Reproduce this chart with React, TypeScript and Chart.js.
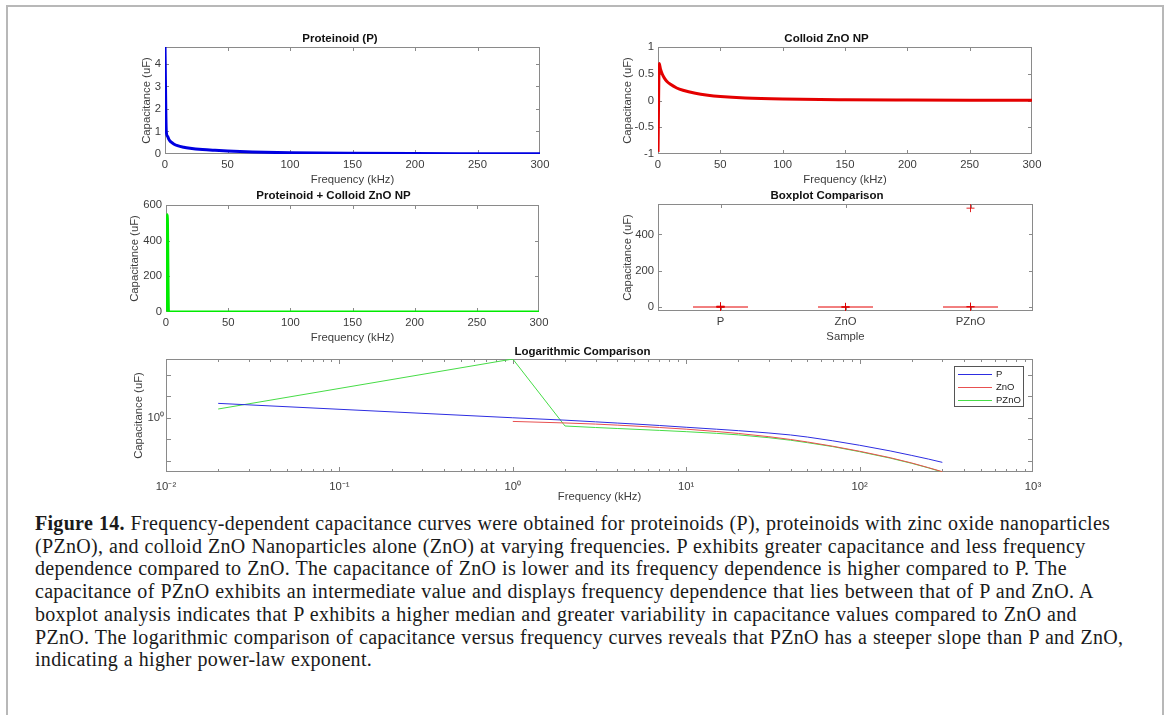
import React, { useEffect, useRef } from 'react';
import { Chart, registerables } from 'chart.js';

Chart.register(...registerables);

// ---------------- data ----------------
const FREQ_KHZ = [0.02, 1, 2, 3, 4, 5, 7, 10, 15, 20, 30, 40, 50, 70, 100, 150, 200, 250, 300];
const CAP_P = [4.75, 1.02, 0.79, 0.66, 0.58, 0.525, 0.447, 0.37, 0.3, 0.257, 0.2, 0.162, 0.13, 0.087, 0.054, 0.0295, 0.0182, 0.0123, 0.0087];
const CAP_ZNO = [-0.96, 0.69, 0.586, 0.519, 0.465, 0.423, 0.361, 0.302, 0.234, 0.191, 0.135, 0.1, 0.0767, 0.0488, 0.0285, 0.0143, 0.0081, 0.0049, 0.0032];
const CAP_PZNO = [2.6, 545, 0.423, 0.36, 0.324, 0.299, 0.265, 0.231, 0.193, 0.164, 0.121, 0.0923, 0.0713, 0.0468, 0.0272, 0.0137, 0.0078, 0.0048, 0.0031];

const SAMPLES = ['P', 'ZnO', 'PZnO'];
const BOX_MEDIANS = [0.03, 0.014, 0.014];
const BOX_OUTLIERS_P = [4.75, 1.02, 0.79, 0.66, 0.58, 0.525];
const BOX_OUTLIERS_ZNO = [0.69, 0.586, -0.96];
const BOX_OUTLIERS_PZNO = [545, 2.6, 0.423];

const LIN_FREQ_TICKS = [0, 50, 100, 150, 200, 250, 300];
const P_TICKS = [0, 1, 2, 3, 4];
const ZNO_TICKS = [-1, -0.5, 0, 0.5, 1];
const PZNO_TICKS = [0, 200, 400, 600];
const BOX_Y_TICKS = [0, 200, 400];
const BOX_X_TICKS = [1, 2, 3];
const LOG_X_MAJOR = [0.01, 0.1, 1, 10, 100, 1000];
const LOG_X_LABELS = ['10\u207B\u00B2', '10\u207B\u00B9', '10\u2070', '10\u00B9', '10\u00B2', '10\u00B3'];
const LOG_MINOR_MULT = [2, 3, 4, 5, 6, 7, 8, 9];
const LOG_Y_TICKS = [0.01, 0.1, 1, 10, 100];

const CAPTION_LABEL = 'Figure 14.';
const CAPTION_LINES = [
  ' Frequency-dependent capacitance curves were obtained for proteinoids (P), proteinoids with zinc oxide nanoparticles',
  '(PZnO), and colloid ZnO Nanoparticles alone (ZnO) at varying frequencies. P exhibits greater capacitance and less frequency',
  'dependence compared to ZnO. The capacitance of ZnO is lower and its frequency dependence is higher compared to P. The',
  'capacitance of PZnO exhibits an intermediate value and displays frequency dependence that lies between that of P and ZnO. A',
  'boxplot analysis indicates that P exhibits a higher median and greater variability in capacitance values compared to ZnO and',
  'PZnO. The logarithmic comparison of capacitance versus frequency curves reveals that PZnO has a steeper slope than P and ZnO,',
  'indicating a higher power-law exponent.',
];

// ---------------- styling ----------------
const FONT = '"Liberation Sans", Arial, Helvetica, sans-serif';
const AXIS_GRAY = '#8a8a8a';
const TEXT_GRAY = '#3c3c3c';
const LABEL_SIZE = 11.3;
const TITLE_SIZE = 11.5;

const matlabAxes = {
  id: 'matlabAxes',
  beforeDatasetsDraw(chart: any, _a: any, opts: any) {
    const { ctx, chartArea } = chart;
    const { left, top, right, bottom } = chartArea;
    const major = (opts && opts.tick) || 4;
    const minor = (opts && opts.minorTick) || 3;
    ctx.save();
    ctx.strokeStyle = AXIS_GRAY;
    ctx.lineWidth = 1;
    ctx.strokeRect(Math.round(left) + 0.5, Math.round(top) + 0.5, Math.round(right - left) - 1, Math.round(bottom - top) - 1);
    ctx.beginPath();
    const xs = chart.scales.x;
    const ys = chart.scales.y;
    xs.ticks.forEach((t: any) => {
      const p = Math.round(xs.getPixelForValue(t.value)) + 0.5;
      if (p < left + 1 || p > right - 1) return;
      const len = xs.type === 'logarithmic' && !LOG_X_MAJOR.includes(t.value) ? minor : major;
      ctx.moveTo(p, bottom); ctx.lineTo(p, bottom - len);
      ctx.moveTo(p, top); ctx.lineTo(p, top + len);
    });
    ys.ticks.forEach((t: any) => {
      const p = Math.round(ys.getPixelForValue(t.value)) + 0.5;
      if (p < top + 1 || p > bottom - 1) return;
      ctx.moveTo(left, p); ctx.lineTo(left + major, p);
      ctx.moveTo(right, p); ctx.lineTo(right - major, p);
    });
    ctx.stroke();
    ctx.restore();
  },
};

const insetLegend = {
  id: 'insetLegend',
  afterDraw(chart: any, _a: any, opts: any) {
    if (!opts || !opts.show) return;
    const { ctx, chartArea } = chart;
    const bw = 69, bh = 40;
    const bx = Math.round(chartArea.right - 10 - bw);
    const by = Math.round(chartArea.top + 7);
    ctx.save();
    ctx.fillStyle = '#fff';
    ctx.fillRect(bx, by, bw, bh);
    ctx.strokeStyle = '#555';
    ctx.lineWidth = 1;
    ctx.strokeRect(bx + 0.5, by + 0.5, bw, bh);
    ctx.font = '9.5px ' + FONT;
    ctx.textBaseline = 'middle';
    chart.data.datasets.forEach((ds: any, i: number) => {
      const y = by + 7.5 + i * 13;
      ctx.strokeStyle = ds.borderColor;
      ctx.beginPath();
      ctx.moveTo(bx + 4, Math.round(y) + 0.5);
      ctx.lineTo(bx + 38, Math.round(y) + 0.5);
      ctx.stroke();
      ctx.fillStyle = '#222';
      ctx.fillText(ds.label, bx + 42, y + 0.5);
    });
    ctx.restore();
  },
};

type Geom = { x: number; y: number; w: number; h: number; W: number; H: number; TT: number };

function frame(L: number, T: number, R: number, B: number, W: number, H = 33, TT = 22): Geom {
  return { x: L - W, y: T - TT, w: R - L + 2 * W, h: TT + (B - T) + H, W, H, TT };
}

function setTicks(values: number[]) {
  return (scale: any) => {
    scale.ticks = values.map((v) => ({ value: v }));
  };
}

function xAxis(o: any) {
  return {
    type: o.type || 'linear',
    position: 'bottom',
    min: o.min,
    max: o.max,
    grid: { display: false, drawTicks: false },
    border: { display: false },
    afterBuildTicks: setTicks(o.ticks),
    afterFit: (s: any) => { s.height = o.H; },
    ticks: {
      autoSkip: false, maxRotation: 0, minRotation: 0,
      padding: o.pad ?? 4.5,
      color: TEXT_GRAY,
      font: { size: LABEL_SIZE, family: FONT, lineHeight: 1.2 },
      callback: o.labelFn || ((v: any) => String(v)),
    },
    title: { display: true, text: o.label, color: TEXT_GRAY, font: { size: LABEL_SIZE, family: FONT, lineHeight: 1.2 }, padding: 0 },
  };
}

function yAxis(o: any) {
  return {
    type: o.type || 'linear',
    position: 'left',
    min: o.min,
    max: o.max,
    grid: { display: false, drawTicks: false },
    border: { display: false },
    afterBuildTicks: setTicks(o.ticks),
    afterFit: (s: any) => { s.width = o.W; },
    ticks: {
      autoSkip: false,
      padding: o.pad ?? 4,
      color: TEXT_GRAY,
      font: { size: LABEL_SIZE, family: FONT, lineHeight: 1.2 },
      callback: o.labelFn || ((v: any) => String(v)),
    },
    title: { display: true, text: 'Capacitance (uF)', color: TEXT_GRAY, font: { size: LABEL_SIZE, family: FONT, lineHeight: 1.2 }, padding: 0 },
  };
}

function baseOptions(g: Geom, title: string, pb: number, scales: any, extraPlugins: any = {}) {
  const lh = TITLE_SIZE * 1.2;
  return {
    responsive: false,
    animation: false,
    events: [],
    layout: { padding: { left: 0, right: g.W, top: 0, bottom: 0 } },
    scales,
    plugins: {
      legend: { display: false },
      tooltip: { enabled: false },
      title: {
        display: true,
        text: title,
        color: '#111',
        font: { size: TITLE_SIZE, weight: 'bold', family: FONT, lineHeight: 1.2 },
        padding: { top: g.TT - lh - pb, bottom: pb },
      },
      ...extraPlugins,
    },
  };
}

function xy(xs: number[], ys: number[], logSafe = false) {
  return xs.map((x, i) => ({ x, y: logSafe && ys[i] <= 0 ? null : ys[i] }));
}

// ---------------- geometry ----------------
const G1 = frame(165, 47, 540, 154, 25);
const G2 = frame(658, 47, 1032, 154, 37);
const G3 = frame(166, 205, 539, 312, 38);
const G4 = frame(658, 204, 1033, 311, 37);
const G5 = frame(166, 359, 1033, 472, 34, 32);

const lineDs = (data: any, color: string) => ({
  data, showLine: true, borderColor: color, borderWidth: 3, pointRadius: 0, cubicInterpolationMode: 'monotone',
});

const config1 = () => ({
  type: 'scatter',
  data: { datasets: [lineDs(xy(FREQ_KHZ, CAP_P), 'rgb(0,0,225)')] },
  options: baseOptions(G1, 'Proteinoid (P)', 1.2, {
    x: xAxis({ min: 0, max: 300, ticks: LIN_FREQ_TICKS, label: 'Frequency (kHz)', H: G1.H }),
    y: yAxis({ min: 0, max: 4.75, ticks: P_TICKS, W: G1.W }),
  }),
  plugins: [matlabAxes],
});

const config2 = () => ({
  type: 'scatter',
  data: { datasets: [lineDs(xy(FREQ_KHZ, CAP_ZNO), 'rgb(228,0,0)')] },
  options: baseOptions(G2, 'Colloid ZnO NP', 1.2, {
    x: xAxis({ min: 0, max: 300, ticks: LIN_FREQ_TICKS, label: 'Frequency (kHz)', H: G2.H }),
    y: yAxis({ min: -1, max: 1, ticks: ZNO_TICKS, W: G2.W }),
  }),
  plugins: [matlabAxes],
});

const config3 = () => ({
  type: 'scatter',
  data: { datasets: [lineDs(xy(FREQ_KHZ, CAP_PZNO), 'rgb(0,235,0)')] },
  options: baseOptions(G3, 'Proteinoid + Colloid ZnO NP', 2.2, {
    x: xAxis({ min: 0, max: 300, ticks: LIN_FREQ_TICKS, label: 'Frequency (kHz)', H: G3.H }),
    y: yAxis({ min: 0, max: 600, ticks: PZNO_TICKS, W: G3.W }),
  }),
  plugins: [matlabAxes],
});

const BOX_HALF = 0.22;
const config4 = () => ({
  type: 'scatter',
  data: {
    datasets: [
      ...SAMPLES.map((_s, i) => ({
        data: [{ x: i + 1 - BOX_HALF, y: BOX_MEDIANS[i] }, { x: i + 1 + BOX_HALF, y: BOX_MEDIANS[i] }],
        showLine: true, borderColor: 'rgb(228,0,0)', borderWidth: 1, pointRadius: 0,
      })),
      {
        data: [BOX_OUTLIERS_P, BOX_OUTLIERS_ZNO, BOX_OUTLIERS_PZNO].flatMap((arr, i) => arr.map((v) => ({ x: i + 1, y: v }))),
        showLine: false, pointStyle: 'cross', pointRadius: 4, borderWidth: 1,
        borderColor: 'rgba(220,0,0,0.85)', backgroundColor: 'transparent',
      },
    ],
  },
  options: baseOptions(G4, 'Boxplot Comparison', 1.2, {
    x: xAxis({ min: 0.5, max: 3.5, ticks: BOX_X_TICKS, label: 'Sample', H: G4.H, labelFn: (v: any) => SAMPLES[Math.round(v) - 1] }),
    y: yAxis({ min: -22, max: 568, ticks: BOX_Y_TICKS, W: G4.W }),
  }),
  plugins: [matlabAxes],
});

const LOG_X_TICKS = [
  ...LOG_X_MAJOR,
  ...LOG_X_MAJOR.slice(0, -1).flatMap((d) => LOG_MINOR_MULT.map((m) => m * d)),
].sort((a, b) => a - b);

const thinDs = (label: string, data: any, color: string) => ({
  label, data, showLine: true, borderColor: color, borderWidth: 1, pointRadius: 0, tension: 0,
});

const config5 = () => ({
  type: 'scatter',
  data: {
    datasets: [
      thinDs('P', xy(FREQ_KHZ, CAP_P, true), 'rgb(45,45,225)'),
      thinDs('ZnO', xy(FREQ_KHZ, CAP_ZNO, true), 'rgb(232,80,80)'),
      thinDs('PZnO', xy(FREQ_KHZ, CAP_PZNO, true), 'rgb(70,220,70)'),
    ],
  },
  options: baseOptions(G5, 'Logarithmic Comparison', 0.5, {
    x: xAxis({
      type: 'logarithmic', min: 0.01, max: 1000, ticks: LOG_X_TICKS, label: 'Frequency (kHz)', H: G5.H, pad: 8,
      labelFn: (v: any) => { const i = LOG_X_MAJOR.findIndex((m) => Math.abs(m - v) < m * 1e-6); return i >= 0 ? LOG_X_LABELS[i] : ''; },
    }),
    y: yAxis({
      type: 'logarithmic', min: 0.0031, max: 545, ticks: LOG_Y_TICKS, W: G5.W, pad: 2,
      labelFn: (v: any) => (Math.abs(v - 1) < 1e-9 ? '10\u2070' : ''),
    }),
  }, { insetLegend: { show: true }, matlabAxes: { tick: 5, minorTick: 3 } }),
  plugins: [matlabAxes, insetLegend],
});

function ChartCanvas({ g, make }: { g: Geom; make: () => any }) {
  const ref = useRef<HTMLCanvasElement>(null);
  useEffect(() => {
    const chart = new Chart(ref.current as HTMLCanvasElement, make());
    return () => chart.destroy();
  }, []);
  return (
    <canvas
      ref={ref}
      width={g.w}
      height={g.h}
      style={{ position: 'absolute', left: g.x, top: g.y, width: g.w, height: g.h }}
    />
  );
}

export default function App() {
  return (
    <div style={{ position: 'absolute', left: 0, top: 0, width: 1167, height: 715, overflow: 'hidden', background: '#fff' }}>
      <div
        style={{
          position: 'absolute', left: 6, top: 5, width: 1158, height: 740, boxSizing: 'border-box',
          borderLeft: '2px solid #b8b8b8', borderTop: '2px solid #b8b8b8', borderRight: '2px solid #b8b8b8',
        }}
      />
      <ChartCanvas g={G1} make={config1} />
      <ChartCanvas g={G2} make={config2} />
      <ChartCanvas g={G3} make={config3} />
      <ChartCanvas g={G4} make={config4} />
      <ChartCanvas g={G5} make={config5} />
      <div
        style={{
          position: 'absolute', left: 35, top: 512, fontFamily: '"Liberation Serif", "Times New Roman", serif',
          fontSize: 20, lineHeight: '22.7px', letterSpacing: '0.3px', wordSpacing: '0.5px',
          color: '#1a1a1a', whiteSpace: 'nowrap',
        }}
      >
        {CAPTION_LINES.map((line, i) => (
          <div key={i}>
            {i === 0 ? <b>{CAPTION_LABEL}</b> : null}
            {line}
          </div>
        ))}
      </div>
    </div>
  );
}
